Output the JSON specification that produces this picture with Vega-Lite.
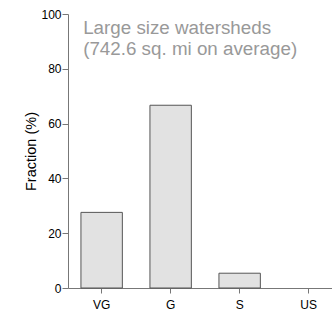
{
  "$schema": "https://vega.github.io/schema/vega-lite/v6.json",
  "autosize": "none",
  "width": 264,
  "height": 274,
  "padding": {"left": 68, "top": 14, "right": 0, "bottom": 28},
  "background": "white",
  "config": {
    "view": {"stroke": null},
    "font": "Liberation Sans"
  },
  "data": {"values": [
    {"cat": "VG", "frac": 27.6},
    {"cat": "G", "frac": 66.7},
    {"cat": "S", "frac": 5.4},
    {"cat": "US", "frac": 0}
  ]},
  "layer": [
    {
      "mark": {"type": "bar", "fill": "#e2e2e2", "stroke": "#555555", "strokeWidth": 1},
      "encoding": {
        "x": {
          "field": "cat", "type": "nominal", "sort": ["VG", "G", "S", "US"],
          "scale": {"paddingInner": 0.4, "paddingOuter": 0.113, "align": 0.83},
          "axis": {
            "title": null, "labelAngle": 0, "domainColor": "#777777", "tickColor": "#777777",
            "tickSize": 5, "labelPadding": 6, "labelFontSize": 12, "labelColor": "#000000",
            "labelFont": "Liberation Sans"
          }
        },
        "y": {
          "field": "frac", "type": "quantitative",
          "scale": {"domain": [0, 100], "nice": false},
          "axis": {
            "title": "Fraction (%)", "titleFontSize": 14.5, "titleFontWeight": "normal",
            "titleColor": "#000000", "titleFont": "Liberation Sans", "titlePadding": 2,
            "values": [0, 10, 20, 30, 40, 50, 60, 70, 80, 90, 100],
            "labelExpr": "datum.value % 20 === 0 ? datum.label : ''",
            "tickSize": {"expr": "datum.value % 20 === 0 ? 6 : 3"},
            "grid": false, "domainColor": "#777777", "tickColor": "#777777",
            "labelPadding": 1, "labelFontSize": 12, "labelColor": "#000000",
            "labelFont": "Liberation Sans"
          }
        },
        "strokeOpacity": {"condition": {"test": "datum.frac === 0", "value": 0}, "value": 1}
      }
    },
    {
      "data": {"values": [{"label": ["Large size watersheds", "(742.6 sq. mi on average)"]}]},
      "mark": {"type": "text", "align": "left", "baseline": "alphabetic", "dx": -18.5,
               "fontSize": 18.8, "lineHeight": 21, "color": "#999999", "font": "Liberation Sans"},
      "encoding": {
        "x": {"datum": "VG", "type": "nominal"},
        "y": {"datum": 92.7, "type": "quantitative"},
        "text": {"field": "label"}
      }
    }
  ]
}
